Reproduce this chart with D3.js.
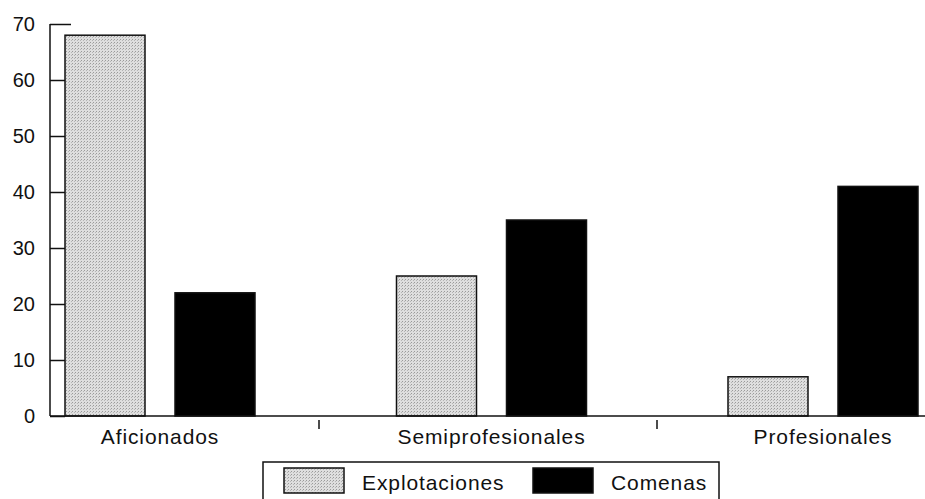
<!DOCTYPE html>
<html><head><meta charset="utf-8">
<script src="https://cdn.jsdelivr.net/npm/d3@7/dist/d3.min.js"></script>
<style>body{margin:0;background:#fff}svg{display:block}text{font-family:"Liberation Sans",Arial,sans-serif;fill:#111}</style>
</head><body>
<svg id="c" width="925" height="499"></svg>
<script>
const categories = ["Aficionados", "Semiprofesionales", "Profesionales"];
const series = ["Explotaciones", "Comenas"];
const explotaciones = [68, 25, 7];
const comenas = [22, 35, 41];
const yTicks = [0, 10, 20, 30, 40, 50, 60, 70];

const values = [explotaciones, comenas];
const colors = ["#d2d2d2", "#000000"];
const svg = d3.select("#c");

const y = d3.scaleLinear().domain([0, 70]).range([416, 24]);
const x = d3.scaleBand().domain(categories).range([-5.75, 988.75]);
const xs = d3.scaleBand().domain(series).range([-95, 95]).paddingInner(30/110);

// stipple pattern
const defs = svg.append("defs");
const pat = defs.append("pattern").attr("id","dots").attr("width",3).attr("height",3).attr("patternUnits","userSpaceOnUse");
pat.append("rect").attr("width",3).attr("height",3).attr("fill","#dedede");
pat.append("rect").attr("x",0).attr("y",0).attr("width",1).attr("height",1).attr("fill","#9a9a9a");
pat.append("rect").attr("x",2).attr("y",1).attr("width",1).attr("height",1).attr("fill","#b5b5b5");

// y axis
const yAxis = svg.append("g").attr("transform","translate(50,0)")
  .call(d3.axisRight(y).tickValues(yTicks).tickSize(15).tickFormat(d=>""));
yAxis.select(".domain").remove();
yAxis.selectAll(".tick line").attr("stroke","#111").attr("stroke-width",1.5).attr("x2", d => d===70 ? 21 : 15);
svg.append("line").attr("x1",50).attr("x2",50).attr("y1",y(70)).attr("y2",y(0)).attr("stroke","#111").attr("stroke-width",1.5);
svg.append("g").selectAll("text").data(yTicks).join("text")
  .attr("x",35).attr("y",d=>y(d)).attr("dy","0.36em").attr("text-anchor","end")
  .attr("font-size",20).text(d=>d);

// bars
categories.forEach((c,i)=>{
  const cx = x(c) + x.bandwidth()/2;
  series.forEach((s,j)=>{
    const v = values[j][i];
    svg.append("rect")
      .attr("x", cx + xs(s)).attr("width", xs.bandwidth())
      .attr("y", y(v)).attr("height", y(0)-y(v))
      .attr("fill", j===0 ? "url(#dots)" : colors[j])
      .attr("stroke","#111").attr("stroke-width",1.5);
  });
});

// baseline
svg.append("line").attr("x1",50).attr("x2",925).attr("y1",y(0)).attr("y2",y(0)).attr("stroke","#111").attr("stroke-width",1.5);
// category separators
const sepX = [319, 657];
categories.slice(1).forEach((c,k)=>{
  svg.append("line").attr("x1",sepX[k]).attr("x2",sepX[k]).attr("y1",420).attr("y2",429).attr("stroke","#111").attr("stroke-width",1.5);
});
// category labels
svg.append("g").selectAll("text").data(categories).join("text")
  .attr("x",d=>x(d)+x.bandwidth()/2).attr("y",444).attr("text-anchor","middle")
  .attr("font-size",21).attr("letter-spacing",0.9).text(d=>d);

// legend
svg.append("rect").attr("x",263).attr("y",462).attr("width",456).attr("height",45)
  .attr("fill","none").attr("stroke","#111").attr("stroke-width",1.5);
const lx = [284, 533];
series.forEach((s,j)=>{
  svg.append("rect").attr("x",lx[j]).attr("y",468).attr("width",60).attr("height",25)
    .attr("fill", j===0 ? "url(#dots)" : colors[j]).attr("stroke","#111").attr("stroke-width",1.5);
  svg.append("text").attr("x",lx[j]+78).attr("y",490).attr("font-size",21).attr("letter-spacing",0.9).text(s);
});
</script>
</body></html>
